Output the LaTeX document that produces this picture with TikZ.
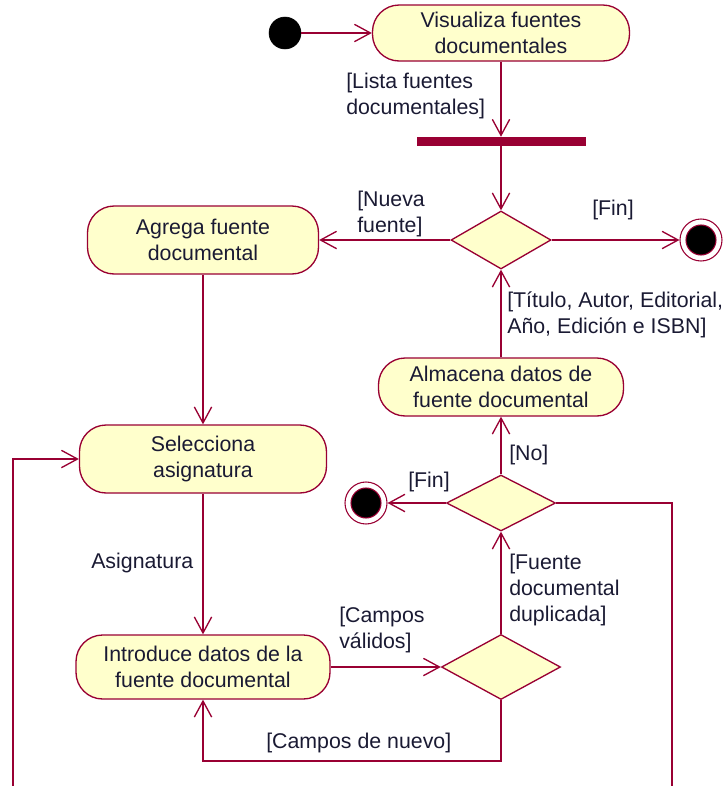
\documentclass[tikz,border=0pt]{standalone}
\usepackage{fontspec}
\setmainfont{Liberation Sans}
\usepackage{xcolor}
\usepackage{tikz}
\usetikzlibrary{arrows.meta,shapes.geometric}
\definecolor{Maroon}{HTML}{990033}
\definecolor{Cream}{HTML}{FFFFCC}
\definecolor{Ink}{HTML}{1A1A33}

\begin{document}
\begin{tikzpicture}[x=0.75pt,y=-0.75pt,
  action/.style={rectangle,rounded corners=20pt,draw=Maroon,fill=Cream,line width=1pt,text=Ink,align=center,inner sep=0pt,font=\fontsize{16}{19.5}\selectfont},
  decision/.style={diamond,draw=Maroon,fill=Cream,line width=1pt,inner sep=0pt},
  syncbar/.style={rectangle,fill=Maroon,inner sep=0pt,minimum width=126.75pt,minimum height=6.75pt},
  startdot/.style={circle,fill=black,draw=black,inner sep=0pt,minimum size=24pt},
  enddot/.style={circle,draw=Maroon,fill=white,line width=.8pt,inner sep=0pt,minimum size=31.5pt,
    path picture={\filldraw[fill=black,draw=Maroon] (path picture bounding box.center) circle (11.25pt);}},
  guard/.style={anchor=west,inner sep=0pt,align=left,text=Ink,font=\fontsize{16}{19.5}\selectfont},
  line/.style={draw=Maroon,line width=1pt},
  flow/.style={line,-{Straight Barb[length=12pt,width=13pt]}}]
\useasboundingbox (0,0) rectangle (724,786);
% activities and control nodes
\node[startdot] (start) at (285,33) {};
\node[action,minimum width=192.75pt,minimum height=42pt] (vis) at (501,33) {Visualiza fuentes\\documentales};
\node[syncbar] (bar) at (501,141.5) {};
\node[decision,minimum width=75pt,minimum height=43.5pt] (d1) at (501,240) {};
\node[action,minimum width=173.25pt,minimum height=51pt] (agrega) at (203,240) {Agrega fuente\\documental};
\node[enddot] (fin1) at (701,240) {};
\node[action,minimum width=183.75pt,minimum height=43.5pt] (alm) at (501,387) {Almacena datos de\\fuente documental};
\node[decision,minimum width=81.75pt,minimum height=42pt] (d2) at (501,503) {};
\node[enddot] (fin2) at (366,503) {};
\node[action,minimum width=185.25pt,minimum height=51pt] (sel) at (203,459) {Selecciona\\asignatura};
\node[action,minimum width=190.5pt,minimum height=48pt] (intro) at (203,667) {Introduce datos de la\\fuente documental};
\node[decision,minimum width=89.25pt,minimum height=48.75pt] (d3) at (501,667) {};
\coordinate (loopR) at (672,786);
\coordinate (loopL) at (13,786);
\coordinate (loopB) at (501,761);
% transitions
\draw[flow] (start) -- (vis);
\draw[flow] (vis) -- (bar);
\draw[flow] (bar) -- (d1);
\draw[flow] (d1) -- (agrega);
\draw[flow] (d1) -- (fin1);
\draw[flow] (alm) -- (d1);
\draw[flow] (d2) -- (alm);
\draw[flow] (d2) -- (fin2);
\draw[line] (d2.east) -| (loopR);
\draw[flow] (loopL) |- (sel.west);
\draw[flow] (agrega) -- (sel);
\draw[flow] (sel) -- (intro);
\draw[flow] (intro) -- (d3);
\draw[flow] (d3) -- (d2);
\draw[flow] (d3.south) -- (loopB) -| (intro.south);
% guards
\node[guard] (gLista) at (346,95.5) {[Lista fuentes\\documentales]};
\node[guard] (gNueva) at (357,214) {[Nueva\\fuente]};
\node[guard] (gFin1) at (592,210) {[Fin]};
\node[guard] (gDatos) at (507,315) {[Título, Autor, Editorial,\\Año, Edición e ISBN]};
\node[guard] (gNo) at (509,455) {[No]};
\node[guard] (gFin2) at (408,482) {[Fin]};
\node[guard] (gDup) at (509,590) {[Fuente\\documental\\duplicada]};
\node[guard] (gValidos) at (339,630) {[Campos\\válidos]};
\node[guard] (gNuevo) at (266,743) {[Campos de nuevo]};
\node[guard] (gAsig) at (91,563) {Asignatura};
\end{tikzpicture}
\end{document}
